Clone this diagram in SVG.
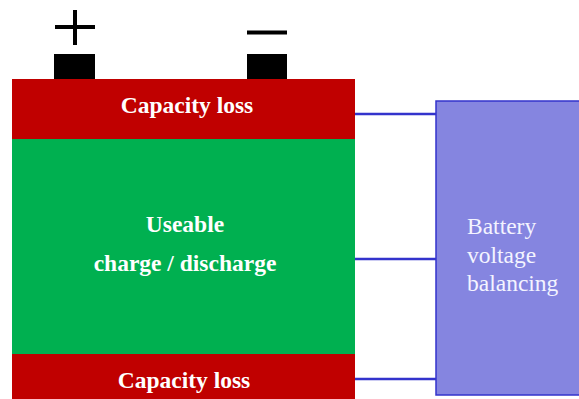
<svg xmlns="http://www.w3.org/2000/svg" width="579" height="399" viewBox="0 0 579 399">
  <style>
    .loss { fill: #c00000; }
    .usable { fill: #00b050; }
    .terminal { fill: #000000; }
    .sign { stroke: #000000; stroke-width: 4; fill: none; }
    .lbl { font-family: "Liberation Serif", "Times New Roman", serif; font-size: 23.5px; fill: #ffffff; font-weight: bold; text-anchor: middle; }
    .box { fill: #8585e0; stroke: #3333cc; stroke-width: 1.5; }
    .boxlbl { font-family: "Liberation Serif", "Times New Roman", serif; font-size: 23.5px; fill: #f4f4ff; }
    .wire { stroke: #3333cc; stroke-width: 2.5; fill: none; }
  </style>
  <rect width="579" height="399" fill="#ffffff"/>

  <g id="battery">
    <rect class="terminal" x="54" y="54" width="41" height="26"/>
    <rect class="terminal" x="247" y="54" width="40" height="26"/>
    <path class="sign" d="M55 27 H95 M75 10 V45"/>
    <path class="sign" d="M247 32.5 H287"/>
  </g>

  <g id="capacity-loss-top">
    <rect class="loss" x="12" y="79" width="343" height="60"/>
    <text class="lbl" x="187" y="113">Capacity loss</text>
  </g>

  <g id="useable">
    <rect class="usable" x="12" y="139" width="343" height="215"/>
    <text class="lbl" x="185" y="232">Useable</text>
    <text class="lbl" x="185" y="271">charge / discharge</text>
  </g>

  <g id="capacity-loss-bottom">
    <rect class="loss" x="12" y="354" width="343" height="45"/>
    <text class="lbl" x="184" y="388">Capacity loss</text>
  </g>

  <g id="balancing">
    <rect class="box" x="436" y="101" width="150" height="294"/>
    <text class="boxlbl" x="467" y="234">Battery</text>
    <text class="boxlbl" x="467" y="263">voltage</text>
    <text class="boxlbl" x="467" y="291">balancing</text>
  </g>

  <g id="connectors">
    <path class="wire" d="M355 114 H436"/>
    <path class="wire" d="M355 259 H436"/>
    <path class="wire" d="M355 379 H436"/>
  </g>
</svg>
